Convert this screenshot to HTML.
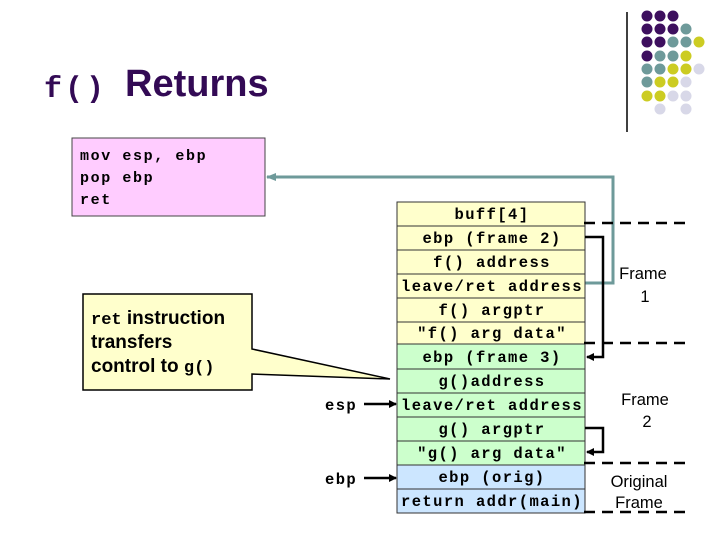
<!DOCTYPE html>
<html><head><meta charset="utf-8"><style>
html,body{margin:0;padding:0;background:#fff;}
svg{display:block;}
.m{font-family:"Liberation Mono",monospace;font-weight:bold;}
.s{font-family:"Liberation Sans",sans-serif;}
</style></head><body>
<svg width="720" height="540" viewBox="0 0 720 540" xmlns="http://www.w3.org/2000/svg">
<defs>
<marker id="ah" markerWidth="8" markerHeight="8" refX="7" refY="4" orient="auto" markerUnits="userSpaceOnUse"><path d="M0,0 L8,4 L0,8 z" fill="#000"/></marker>
<marker id="at" markerWidth="10" markerHeight="8" refX="9" refY="4" orient="auto" markerUnits="userSpaceOnUse"><path d="M0,0 L10,4 L0,8 z" fill="#6e9a9a"/></marker>
</defs>
<line x1="627" y1="12" x2="627" y2="132" stroke="#000" stroke-width="1.5"/>
<g>
<circle cx="647" cy="16" r="5.5" fill="#3d0f5e"/><circle cx="660" cy="16" r="5.5" fill="#3d0f5e"/><circle cx="673" cy="16" r="5.5" fill="#3d0f5e"/>
<circle cx="647" cy="29" r="5.5" fill="#3d0f5e"/><circle cx="660" cy="29" r="5.5" fill="#3d0f5e"/><circle cx="673" cy="29" r="5.5" fill="#3d0f5e"/><circle cx="686" cy="29" r="5.5" fill="#6e9a9a"/>
<circle cx="647" cy="42" r="5.5" fill="#3d0f5e"/><circle cx="660" cy="42" r="5.5" fill="#3d0f5e"/><circle cx="673" cy="42" r="5.5" fill="#6e9a9a"/><circle cx="686" cy="42" r="5.5" fill="#6e9a9a"/><circle cx="699" cy="42" r="5.5" fill="#cccc22"/>
<circle cx="647" cy="56" r="5.5" fill="#3d0f5e"/><circle cx="660" cy="56" r="5.5" fill="#6e9a9a"/><circle cx="673" cy="56" r="5.5" fill="#6e9a9a"/><circle cx="686" cy="56" r="5.5" fill="#cccc22"/>
<circle cx="647" cy="69" r="5.5" fill="#6e9a9a"/><circle cx="660" cy="69" r="5.5" fill="#6e9a9a"/><circle cx="673" cy="69" r="5.5" fill="#cccc22"/><circle cx="686" cy="69" r="5.5" fill="#cccc22"/><circle cx="699" cy="69" r="5.5" fill="#d8d8e8"/>
<circle cx="647" cy="82" r="5.5" fill="#6e9a9a"/><circle cx="660" cy="82" r="5.5" fill="#cccc22"/><circle cx="673" cy="82" r="5.5" fill="#cccc22"/><circle cx="686" cy="82" r="5.5" fill="#d8d8e8"/>
<circle cx="647" cy="96" r="5.5" fill="#cccc22"/><circle cx="660" cy="96" r="5.5" fill="#cccc22"/><circle cx="673" cy="96" r="5.5" fill="#d8d8e8"/><circle cx="686" cy="96" r="5.5" fill="#d8d8e8"/>
<circle cx="660" cy="109" r="5.5" fill="#d8d8e8"/><circle cx="686" cy="109" r="5.5" fill="#d8d8e8"/>
</g>
<text x="44" y="97" class="m" font-size="30" letter-spacing="3" fill="#330a55">f()</text>
<text x="125" y="96" class="s" font-weight="bold" font-size="38" fill="#330a55">Returns</text>
<rect x="72" y="138" width="193" height="78" fill="#ffccff" stroke="#444" stroke-width="1"/>
<text class="m" font-size="15" letter-spacing="1.6" fill="#000"><tspan x="80" y="160">mov esp, ebp</tspan><tspan x="80" y="182">pop ebp</tspan><tspan x="80" y="204">ret</tspan></text>
<polyline points="585,283 613,283 613,177 267,177" fill="none" stroke="#6e9a9a" stroke-width="3" marker-end="url(#at)"/>
<path d="M83,294 L252,294 L252,349 L390,379 L252,374 L252,390 L83,390 Z" fill="#ffffcc" stroke="#000" stroke-width="1.5"/>
<text font-size="19" fill="#000" class="s" font-weight="bold"><tspan x="91" y="324"><tspan class="m" font-weight="normal" font-size="17">ret</tspan> instruction</tspan><tspan x="91" y="348">transfers</tspan><tspan x="91" y="372">control to <tspan class="m" font-weight="normal" font-size="17">g()</tspan></tspan></text>
<g stroke="#333" stroke-width="1">
<rect x="397" y="202" width="188" height="24" fill="#ffffcc"/>
<rect x="397" y="226" width="188" height="24" fill="#ffffcc"/>
<rect x="397" y="250" width="188" height="24" fill="#ffffcc"/>
<rect x="397" y="274" width="188" height="24" fill="#ffffcc"/>
<rect x="397" y="298" width="188" height="24" fill="#ffffcc"/>
<rect x="397" y="322" width="188" height="22" fill="#ffffcc"/>
<rect x="397" y="344" width="188" height="25" fill="#ccffcc"/>
<rect x="397" y="369" width="188" height="24" fill="#ccffcc"/>
<rect x="397" y="393" width="188" height="24" fill="#ccffcc"/>
<rect x="397" y="417" width="188" height="24" fill="#ccffcc"/>
<rect x="397" y="441" width="188" height="24" fill="#ccffcc"/>
<rect x="397" y="465" width="188" height="24" fill="#cce6ff"/>
<rect x="397" y="489" width="188" height="24" fill="#cce6ff"/>
</g>
<g class="m" font-size="15.5" letter-spacing="1.4" fill="#000" text-anchor="middle">
<text x="492" y="219">buff[4]</text>
<text x="492" y="243">ebp (frame 2)</text>
<text x="492" y="267">f() address</text>
<text x="492" y="291">leave/ret address</text>
<text x="492" y="315">f() argptr</text>
<text x="492" y="338">"f() arg data"</text>
<text x="492" y="362">ebp (frame 3)</text>
<text x="492" y="386">g()address</text>
<text x="492" y="410">leave/ret address</text>
<text x="492" y="434">g() argptr</text>
<text x="492" y="458">"g() arg data"</text>
<text x="492" y="482">ebp (orig)</text>
<text x="492" y="506">return addr(main)</text>
</g>
<text x="325" y="410" class="m" font-size="15.5" letter-spacing="1.4">esp</text>
<line x1="364" y1="404" x2="396" y2="404" stroke="#000" stroke-width="2.5" marker-end="url(#ah)"/>
<text x="325" y="484" class="m" font-size="15.5" letter-spacing="1.4">ebp</text>
<line x1="364" y1="478" x2="396" y2="478" stroke="#000" stroke-width="2.5" marker-end="url(#ah)"/>
<polyline points="585,237 603,237 603,357 587,357" fill="none" stroke="#000" stroke-width="2.5" marker-end="url(#ah)"/>
<polyline points="585,428 603,428 603,452 587,452" fill="none" stroke="#000" stroke-width="2.5" marker-end="url(#ah)"/>
<g stroke="#000" stroke-width="2.5" stroke-dasharray="11,7">
<line x1="584" y1="223" x2="690" y2="223"/>
<line x1="584" y1="343" x2="690" y2="343"/>
<line x1="584" y1="463" x2="690" y2="463"/>
<line x1="584" y1="512" x2="690" y2="512"/>
</g>
<g class="s" font-size="16.5" fill="#000" text-anchor="middle">
<text x="643" y="279">Frame</text><text x="645" y="302">1</text>
<text x="645" y="405">Frame</text><text x="647" y="427">2</text>
<text x="639" y="487">Original</text><text x="639" y="508">Frame</text>
</g>
</svg>
</body></html>
